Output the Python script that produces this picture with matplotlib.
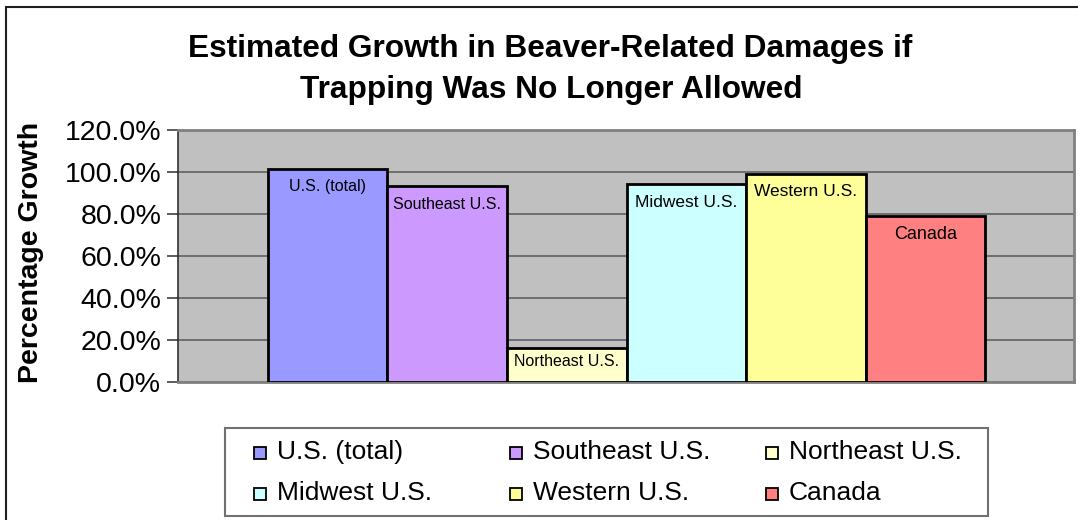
import matplotlib.pyplot as plt
from matplotlib.patches import Rectangle

# data
regions = ['U.S. (total)', 'Southeast U.S.', 'Northeast U.S.',
           'Midwest U.S.', 'Western U.S.', 'Canada']
growth = [101.5, 93.1, 16.2, 94.0, 99.1, 78.8]
y_ticks = [0, 20, 40, 60, 80, 100, 120]

colors = ['#9999FF', '#CC99FF', '#FFFFCC', '#CCFFFF', '#FFFF99', '#FF8080']
label_sizes = [11.5, 11.5, 11.5, 12.5, 12.5, 13]
label_offsets = [-13, -13, -10, -13, -13, -13]

plt.rcParams['font.family'] = ['Liberation Sans', 'DejaVu Sans']

W, H = 1078, 520
fig = plt.figure(figsize=(W / 100, H / 100), dpi=100)
ax = fig.add_axes([178 / W, 1 - 382 / H, 896 / W, 252.4 / H])
ax.set_facecolor('#C0C0C0')

x = list(range(len(regions)))
bars = ax.bar(x, growth, width=1.0, color=colors, edgecolor='black',
              linewidth=2, zorder=3)

for xi, val, name, fs, off in zip(x, growth, regions, label_sizes, label_offsets):
    ax.annotate(name, (xi, val), xytext=(0, off), textcoords='offset points',
                ha='center', va='center', fontsize=fs, zorder=4)

ax.set_xlim(-1.25, 5.5 + 0.74)
ax.set_ylim(0, 120)
ax.set_yticks(y_ticks)
ax.set_yticklabels([f'{v:.1f}%' for v in y_ticks], fontsize=20.5)
ax.set_xticks([])
ax.yaxis.grid(True, color='#606060', linewidth=1.2, zorder=1)
ax.tick_params(axis='y', length=8, width=1.2, color='#404040', pad=4)

for side in ['top', 'right', 'bottom']:
    ax.spines[side].set_color('#808080')
    ax.spines[side].set_linewidth(2)
ax.spines['left'].set_color('#303030')
ax.spines['left'].set_linewidth(1.2)

ax.set_ylabel('Percentage Growth', fontsize=20.5, fontweight='bold')
ax.yaxis.set_label_coords((44 - 178) / 896, (381.7 - 252) / 252.4)

fig.text(550 / W, 1 - 49 / H,
         'Estimated Growth in Beaver-Related Damages if', ha='center',
         va='center', fontsize=22.8, fontweight='bold')
fig.text(551 / W, 1 - 90 / H, 'Trapping Was No Longer Allowed',
         ha='center', va='center', fontsize=22.8, fontweight='bold')

# legend drawn by hand: Excel uses equal column widths, filled row by row
fig.patches.append(Rectangle((225 / W, 1 - 516 / H), 763 / W, 88 / H,
                             transform=fig.transFigure, facecolor='white',
                             edgecolor='#707070', linewidth=1.5))
col_left = [254, 510, 766]
row_base = [459, 500]
for i, (name, c) in enumerate(zip(regions, colors)):
    lx = col_left[i % 3]
    by = row_base[i // 3]
    fig.patches.append(Rectangle((lx / W, 1 - by / H), 12 / W, 12 / H,
                                 transform=fig.transFigure, facecolor=c,
                                 edgecolor='black', linewidth=1.3))
    fig.text((lx + 23) / W, 1 - by / H, name, ha='left', va='baseline',
             fontsize=19)

# outer chart frame (cut off at right and bottom in the reference)
fig.patches.append(Rectangle((6 / W, -0.1), 1.2, 1 - 7 / H + 0.1,
                             transform=fig.transFigure, fill=False,
                             edgecolor='#202020', linewidth=1.5))

fig.savefig('out.png', dpi=100)
